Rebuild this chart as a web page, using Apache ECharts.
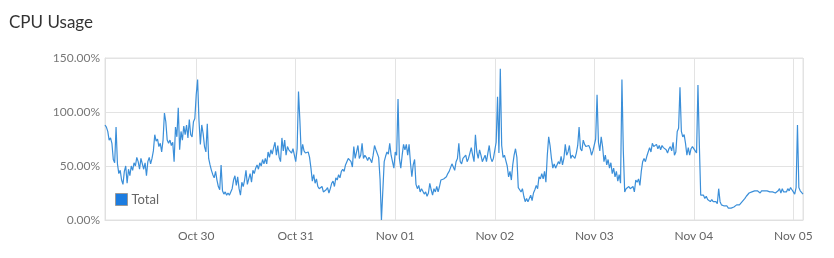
<!DOCTYPE html>
<html>
<head>
<meta charset="utf-8">
<script src="https://cdn.jsdelivr.net/npm/echarts@6/dist/echarts.min.js"></script>
<style>
html,body{margin:0;padding:0;background:#fff;}
#chart{width:834px;height:258px;}
</style>
</head>
<body>
<div id="chart"></div>
<script>
// Samples every 20 minutes, starting Oct 29 02:00
var seriesName = 'Total';
var dayLabels = ['Oct 29','Oct 30','Oct 31','Nov 01','Nov 02','Nov 03','Nov 04','Nov 05'];
var yTickLabels = ['0.00%','50.00%','100.00%','150.00%'];

var oct29 = [88,86,82,74,76,71,56,53,86,52,43,46,37,33,45,50,34,47,41,50,46,53,50,58,54,47,57,58,47,53,41,54,58,52,57,64,79,73,75,68,71,63,74,99,91,74,71,74,69,72,54,86,77,104,65,82,74,87,79,88,76,93,79,77,91,94];
var oct30 = [116,130,92,70,88,80,68,63,89,57,51,46,42,39,45,37,31,28,51,27,24,26,23,25,23,26,29,37,41,32,40,29,23,35,31,37,46,33,38,43,35,46,43,48,51,47,53,50,56,52,57,52,63,58,65,61,67,72,60,69,58,54,76,64,74,60,68,65,66,62,66,60];
var oct31 = [54,66,119,92,60,70,64,62,61,63,58,48,36,42,34,38,31,29,28,31,26,25,28,30,25,29,34,36,31,39,37,42,39,45,47,45,51,54,57,57,54,49,68,57,56,69,57,60,71,57,60,58,55,58,56,53,60,69,65,64,58,38,0,0,54,59,63,61,71,60,54,48];
var nov01 = [63,60,112,57,48,60,70,65,70,60,70,53,40,51,56,33,29,32,26,29,29,24,26,22,25,34,28,23,29,26,31,26,31,37,36,38,37,40,43,45,46,52,51,46,54,57,71,54,52,57,56,60,54,57,62,67,60,54,79,63,57,65,60,54,57,60,54,62,69,58,54,57];
var nov02 = [56,72,114,62,140,69,58,60,55,50,40,45,37,51,60,66,58,30,28,26,29,22,17,20,17,20,23,18,25,28,32,29,40,38,43,38,45,35,60,77,69,57,48,52,48,51,54,52,59,51,57,70,60,63,69,57,60,60,57,62,69,86,66,64,74,70,68,68,69,66,60,64];
var nov03 = [64,75,116,72,64,77,68,54,60,51,56,48,53,43,48,40,45,36,42,34,130,64,26,29,28,31,29,28,31,26,37,35,38,32,45,54,57,54,59,60,67,63,71,68,69,70,66,69,65,69,67,68,65,62,66,68,64,72,60,63,82,85,123,82,77,79,71,60,67,60,66,68];
var nov04 = [68,64,62,125,70,23,22,23,20,22,19,19,17,19,17,16,17,15,29,17,14,13,13,12,13,11,12,11,12,12,12,14,13,14,15,17,18,20,22,23,25,25,26,26,27,26,27,28,25,27,26,27,26,27,26,26,25,26,27,25,26,27,29,25,29,26,27,26,29,27,30,28];
var nov05 = [26,24,30,88,30,27,28,24];

var values = [].concat(oct29, oct30, oct31, nov01, nov02, nov03, nov04, nov05);
var startTime = new Date(2023, 9, 29, 2, 0, 0).getTime();
var stepMs = 20 * 60 * 1000;
var dayMs = 24 * 3600 * 1000;
var firstMidnight = new Date(2023, 9, 29, 0, 0, 0).getTime();
var data = values.map(function (v, i) { return [startTime + i * stepMs, v]; });
var endTime = startTime + (values.length - 1) * stepMs;

var FONT = 'Lato, "Open Sans", sans-serif';
var chart = echarts.init(document.getElementById('chart'), null, {renderer: 'canvas'});
chart.setOption({
  animation: false,
  backgroundColor: '#fff',
  title: {
    text: 'CPU Usage',
    left: 4, top: 9,
    textStyle: {fontFamily: FONT, fontSize: 17, fontWeight: 'normal', color: '#333'}
  },
  legend: {
    left: 110, top: 188,
    orient: 'vertical',
    icon: 'rect',
    itemWidth: 12, itemHeight: 12,
    itemGap: 5,
    itemStyle: {borderColor: '#9a9a9a', borderWidth: 1},
    textStyle: {fontFamily: FONT, fontSize: 13, color: '#666', padding: [0, 0, 0, -1]},
    data: [{name: seriesName, itemStyle: {color: '#1c7ce0'}}]
  },
  grid: {
    left: 105, right: 31, top: 58, bottom: 38,
    show: true, borderColor: '#e3e3e3', borderWidth: 1
  },
  xAxis: {
    type: 'time',
    min: startTime,
    max: endTime,
    minInterval: dayMs,
    maxInterval: dayMs,
    axisLine: {show: true, lineStyle: {color: '#e0e0e0'}},
    axisTick: {show: false},
    splitLine: {show: true, lineStyle: {color: '#e3e3e3', width: 1}},
    axisLabel: {
      fontFamily: FONT, fontSize: 12, color: '#666', margin: 10,
      showMinLabel: false, showMaxLabel: false,
      formatter: function (v) {
        var idx = Math.round((v - firstMidnight) / dayMs);
        return dayLabels[idx] || '';
      }
    }
  },
  yAxis: {
    type: 'value',
    min: 0, max: 150, interval: 50,
    axisLine: {show: true, lineStyle: {color: '#e0e0e0'}},
    axisTick: {show: false},
    splitLine: {show: true, lineStyle: {color: '#e3e3e3', width: 1}},
    axisLabel: {
      fontFamily: FONT, fontSize: 12, color: '#777', margin: 5,
      formatter: function (v) { return yTickLabels[Math.round(v / 50)]; }
    }
  },
  series: [{
    name: seriesName,
    type: 'line',
    data: data,
    showSymbol: false,
    symbol: 'none',
    color: '#1c7ce0',
    lineStyle: {color: '#3b8fd9', width: 1.2},
    emphasis: {disabled: true}
  }]
});
</script>
</body>
</html>
